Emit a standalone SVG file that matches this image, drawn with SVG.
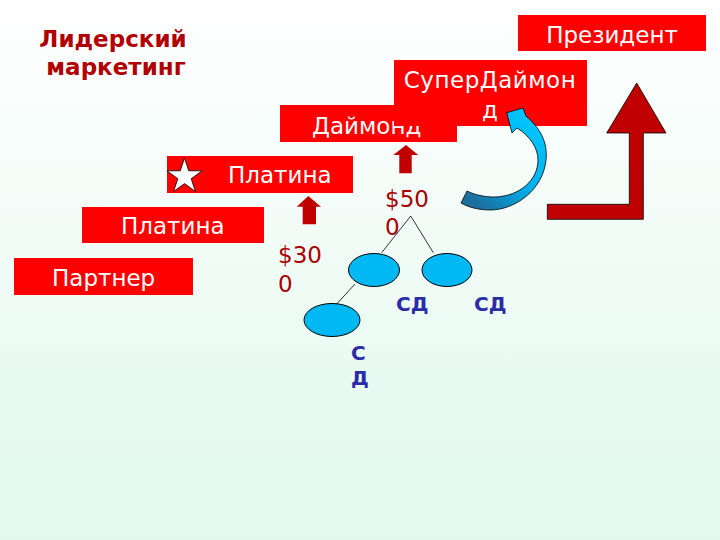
<svg xmlns="http://www.w3.org/2000/svg" width="720" height="540" viewBox="0 0 720 540">
<defs>
<linearGradient id="bg" x1="0" y1="0" x2="0" y2="1">
<stop offset="0" stop-color="#ffffff"/>
<stop offset="1" stop-color="#e0f8ed"/>
</linearGradient>
<linearGradient id="blue" x1="0.8" y1="0.1" x2="0.2" y2="0.95">
<stop offset="0" stop-color="#00c4ff"/>
<stop offset="0.55" stop-color="#00b0ee"/>
<stop offset="1" stop-color="#1a6f9e"/>
</linearGradient>
<style>
.box{fill:#ff0000}
.bt{font-family:"DejaVu Sans",Verdana,sans-serif;font-size:23px;fill:#ffffff}
.title{font-family:"DejaVu Sans",Verdana,sans-serif;font-size:23px;font-weight:bold;fill:#b00000}
.money{font-family:"DejaVu Sans",Verdana,sans-serif;font-size:23px;fill:#a80000}
.sd{font-family:"DejaVu Sans",Verdana,sans-serif;font-size:20px;font-weight:bold;fill:#2c2ca6}
.arr{fill:#c00000}
.node{fill:#00b8f4;stroke:#000;stroke-width:1}
.ln{stroke:#000;stroke-width:0.8;fill:none}
</style>
</defs>
<rect width="720" height="540" fill="url(#bg)"/>
<g id="title">
<text class="title" x="113" y="47" text-anchor="middle">Лидерский</text>
<text class="title" x="116" y="75" text-anchor="middle">маркетинг</text>
</g>
<g id="partner">
<rect class="box" x="14" y="258" width="179" height="37"/>
<text class="bt" x="52" y="286">Партнер</text>
</g>
<g id="platina1">
<rect class="box" x="82" y="207" width="182" height="36"/>
<text class="bt" x="121" y="234">Платина</text>
</g>
<g id="platina2">
<rect class="box" x="167" y="156" width="186" height="37"/>
<polygon points="184.5,158 188.7,170.8 202.1,170.8 191.2,178.7 195.4,191.5 184.5,183.6 173.6,191.5 177.8,178.7 166.9,170.8 180.3,170.8" fill="#ffffff" stroke="#000" stroke-width="0.8"/>
<text class="bt" x="228" y="183">Платина</text>
</g>
<g id="diamond">
<rect class="box" x="280" y="105" width="177" height="37"/>
<text class="bt" x="312" y="134">Даймонд</text>
</g>
<g id="superdiamond">
<rect class="box" x="394" y="60" width="193" height="66"/>
<text class="bt" x="490" y="88" text-anchor="middle" letter-spacing="0.5">СуперДаймон</text>
<text class="bt" x="490" y="118" text-anchor="middle">д</text>
</g>
<g id="president">
<rect class="box" x="518" y="15" width="188" height="36"/>
<text class="bt" x="612" y="43" text-anchor="middle">Президент</text>
</g>
<g id="money">
<text class="money" x="278" y="263">$30</text>
<text class="money" x="278" y="292">0</text>
<text class="money" x="385" y="207">$50</text>
<text class="money" x="385" y="235">0</text>
</g>
<g id="tree-nodes">
<ellipse class="node" cx="374" cy="270" rx="25.5" ry="16.5"/>
<ellipse class="node" cx="447" cy="270" rx="25" ry="16.5"/>
<ellipse class="node" cx="332" cy="320" rx="28" ry="16.5"/>
<text class="sd" x="396" y="311">СД</text>
<text class="sd" x="474" y="311">СД</text>
<text class="sd" x="351" y="360">С</text>
<text class="sd" x="351" y="385">Д</text>
</g>
<g id="connectors">
<polyline class="ln" points="381.7,252.7 410.7,216 433.3,252.7"/>
<line class="ln" x1="355" y1="284" x2="336.7" y2="304"/>
<polygon class="arr" points="308.3,196 321,206.7 316,206.7 316,224.3 302.7,224.3 302.7,206.7 296.7,206.7"/>
<polygon class="arr" points="406,145 418.3,155 411.7,155 411.7,173.3 399.3,173.3 399.3,155 393.3,155"/>
<path d="M506.7,112.7 L523,108 L526,116 C540,128 548,142 546,160 C543,190 515,210 490,210 C478,210 468,207 461,203 L467,191 C475,195 485,197 495,197 C520,196 538,180 538,160 C538,148 530,136 517,128 L512,133 Z" fill="url(#blue)" stroke="#000" stroke-width="0.8"/>
<path d="M636.7,83 L666,133 L643.3,133 L643.3,219.3 L547.3,219.3 L547.3,204.3 L629.3,204.3 L629.3,133 L606.7,133 Z" fill="#c00000" stroke="#000" stroke-width="0.8"/>
</g>
</svg>
